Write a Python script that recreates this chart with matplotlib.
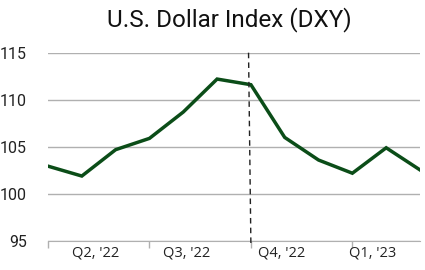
import matplotlib
matplotlib.use("Agg")
import matplotlib.pyplot as plt

# monthly DXY readings, Mar '22 .. Feb '23
dxy = [102.95, 101.9, 104.7, 105.9, 108.7, 112.2, 111.6, 106.0, 103.6, 102.2, 104.9, 102.55]
quarter_labels = ["Q2, '22", "Q3, '22", "Q4, '22", "Q1, '23"]
quarter_label_pos = [1.4, 4.1, 6.9, 9.6]
quarter_ticks = [0, 3, 6, 9]
y_ticks = [95, 100, 105, 110, 115]

fig = plt.figure(figsize=(4.25, 2.7), dpi=100)
ax = fig.add_axes([48 / 425, 1 - 241 / 270, 372 / 425, (241 - 52.7) / 270])

ax.plot(range(len(dxy)), dxy, color="#0b4d18", lw=2.5, solid_joinstyle="miter", zorder=3)

ax.set_xlim(0, len(dxy) - 1)
ax.set_ylim(95, 115)
ax.set_yticks(y_ticks)
ax.set_yticklabels([str(v) for v in y_ticks], fontfamily="Roboto", fontsize=11.5, color="#222222")
ax.grid(axis="y", color="#b0b0b0", lw=1)
ax.tick_params(axis="y", length=0, pad=15)

ax.set_xticks(quarter_ticks)
ax.set_xticklabels([])
ax.tick_params(axis="x", length=5, color="#b0b0b0", width=1)
ax.set_xticks(quarter_label_pos, minor=True)
ax.set_xticklabels(quarter_labels, minor=True, fontfamily="Open Sans", fontsize=10.5, color="#222222")
ax.tick_params(axis="x", which="minor", length=0, pad=3)

for s in ["top", "right", "left"]:
    ax.spines[s].set_visible(False)
ax.spines["bottom"].set_color("#b0b0b0")

# dashed divider between Q3 and Q4
ax.plot([5.93, 6.0], [115, 94.5], color="#222222", lw=1, ls=(0, (4, 3)), clip_on=False, zorder=4)

fig.text(229 / 425, 1 - 20 / 270, "U.S. Dollar Index (DXY)", ha="center", va="center",
         fontfamily="Roboto", fontsize=17.5, color="#111111")

fig.savefig("out.png", dpi=100)
